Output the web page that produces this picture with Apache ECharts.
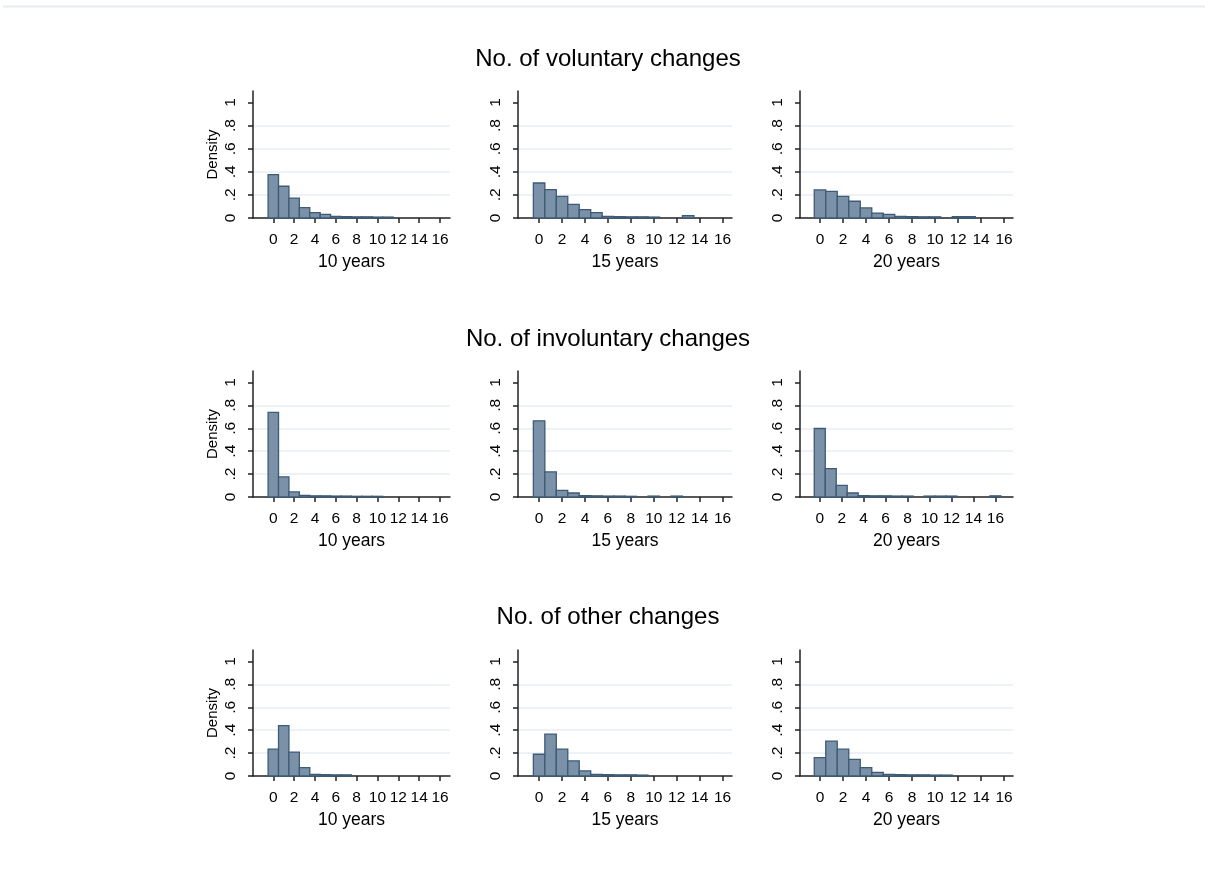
<!DOCTYPE html>
<html>
<head>
<meta charset="utf-8">
<script src="https://cdn.jsdelivr.net/npm/echarts@6/dist/echarts.min.js"></script>
<style>
  html, body { margin: 0; padding: 0; background: #fff; }
  #main { width: 1205px; height: 880px; }
</style>
</head>
<body>
<div id="main"></div>
<script>
// density per number of changes (index = 0, 1, 2, ...)
var vol10 = [0.376, 0.275, 0.173, 0.090, 0.046, 0.032, 0.014, 0.012, 0.010, 0.010, 0.008, 0.008];
var vol15 = [0.303, 0.246, 0.188, 0.118, 0.072, 0.046, 0.014, 0.012, 0.010, 0.010, 0.008, 0, 0, 0.020];
var vol20 = [0.243, 0.231, 0.188, 0.145, 0.087, 0.043, 0.032, 0.014, 0.012, 0.010, 0.010, 0, 0.012, 0.012];
var inv10 = [0.738, 0.175, 0.044, 0.014, 0.010, 0.010, 0.008, 0.008, 0.006, 0.006, 0.006];
var inv15 = [0.665, 0.219, 0.058, 0.035, 0.012, 0.010, 0.008, 0.008, 0.006, 0, 0.008, 0, 0.008];
var inv20 = [0.598, 0.248, 0.102, 0.035, 0.012, 0.010, 0.010, 0.008, 0.008, 0, 0.008, 0.008, 0.008, 0, 0, 0, 0.010];
var oth10 = [0.234, 0.439, 0.208, 0.073, 0.014, 0.012, 0.010, 0.010];
var oth15 = [0.190, 0.365, 0.234, 0.132, 0.044, 0.014, 0.012, 0.010, 0.010, 0.008];
var oth20 = [0.161, 0.304, 0.234, 0.146, 0.073, 0.032, 0.014, 0.012, 0.010, 0.010, 0.008, 0.008];

var panels = [[vol10, vol15, vol20], [inv10, inv15, inv20], [oth10, oth15, oth20]];
var rowTitles = ['No. of voluntary changes', 'No. of involuntary changes', 'No. of other changes'];
var colNames = ['10 years', '15 years', '20 years'];
var xTicks = [0, 2, 4, 6, 8, 10, 12, 14, 16];
var yTicks = [0, 0.2, 0.4, 0.6, 0.8, 1];
var gridVals = [0.2, 0.4, 0.6, 0.8];

// layout
var colLeft = [253, 518, 800];
var colRight = [450, 732, 1013];
var rowTop = [91, 371, 650];
var rowHeight = [127, 126, 126];
var titleTop = [42, 322, 600];
var xMinCol = [-1.95, -1.84, -1.74];
var xMaxCol = [16.96, 16.82, 16.78];

var txt = '#000';
var font = 'Liberation Sans, Arial, sans-serif';
var myChart = echarts.init(document.getElementById('main'));

var option = {
    backgroundColor: '#fff',
    animation: false,
    title: [],
    grid: [],
    xAxis: [],
    yAxis: [],
    series: [],
    graphic: [{
        type: 'line',
        shape: {x1: 3, y1: 6.5, x2: 1205, y2: 6.5},
        style: {stroke: '#e8edf0', lineWidth: 2}
    }]
};

for (var r = 0; r < 3; r++) {
    option.title.push({
        text: rowTitles[r],
        left: 603,
        top: titleTop[r],
        textAlign: 'center',
        textStyle: {fontFamily: font, fontSize: 24, fontWeight: 'normal', color: txt}
    });
    for (var c = 0; c < 3; c++) {
        var idx = r * 3 + c;
        var xmax = xMaxCol[c], xmin = xMinCol[c];
        if (r == 1 && c == 2) { xmin = -1.8; xmax = 17.6; }

        option.grid.push({
            left: colLeft[c],
            top: rowTop[r],
            width: colRight[c] - colLeft[c],
            height: rowHeight[r]
        });
        option.xAxis.push({
            type: 'value',
            gridIndex: idx,
            min: xmin,
            max: xmax,
            name: colNames[c],
            nameLocation: 'middle',
            nameGap: 35,
            nameTextStyle: {fontFamily: font, fontSize: 17.5, color: txt},
            axisLine: {show: true, onZero: false, lineStyle: {color: '#222', width: 1.5}},
            axisTick: {show: true, length: 5, customValues: xTicks, lineStyle: {color: '#222', width: 1.5}},
            axisLabel: {customValues: xTicks, margin: 14, fontFamily: font, fontSize: 15.5, color: txt, hideOverlap: false},
            splitLine: {show: false}
        });
        option.yAxis.push({
            type: 'value',
            gridIndex: idx,
            min: 0,
            max: 1.1,
            name: c == 0 ? 'Density' : '',
            nameLocation: 'middle',
            nameGap: 33,
            nameTextStyle: {fontFamily: font, fontSize: 15, color: txt},
            axisLine: {show: true, onZero: false, lineStyle: {color: '#222', width: 1.5}},
            axisTick: {show: true, length: 5, customValues: yTicks, lineStyle: {color: '#222', width: 1.5}},
            axisLabel: {
                customValues: yTicks,
                rotate: 90,
                margin: 14,
                fontFamily: font,
                fontSize: 15.5,
                color: txt,
                formatter: function (v) {
                    if (v === 0) return '0';
                    if (v === 1) return '1';
                    return String(v).replace('0.', '.');
                }
            },
            splitLine: {show: false}
        });

        var d = panels[r][c].map(function (v, i) { return [i, v]; });
        option.series.push({
            type: 'custom',
            xAxisIndex: idx,
            yAxisIndex: idx,
            data: d,
            encode: {x: 0, y: 1},
            renderItem: function (params, api) {
                var x = api.value(0), h = api.value(1);
                if (!h) return null;
                var p1 = api.coord([x - 0.5, h]);
                var p2 = api.coord([x + 0.5, 0]);
                return {
                    type: 'rect',
                    shape: {x: p1[0], y: p1[1], width: p2[0] - p1[0], height: p2[1] - p1[1]},
                    style: {fill: '#7a91a8', stroke: '#3d5a76', lineWidth: 1.3}
                };
            },
            markLine: {
                silent: true,
                symbol: 'none',
                label: {show: false},
                lineStyle: {color: '#e6eef2', type: 'solid', width: 1.5},
                data: gridVals.map(function (v) { return {yAxis: v}; }),
                z: 0
            },
            z: 2
        });
    }
}

myChart.setOption(option);
</script>
</body>
</html>
